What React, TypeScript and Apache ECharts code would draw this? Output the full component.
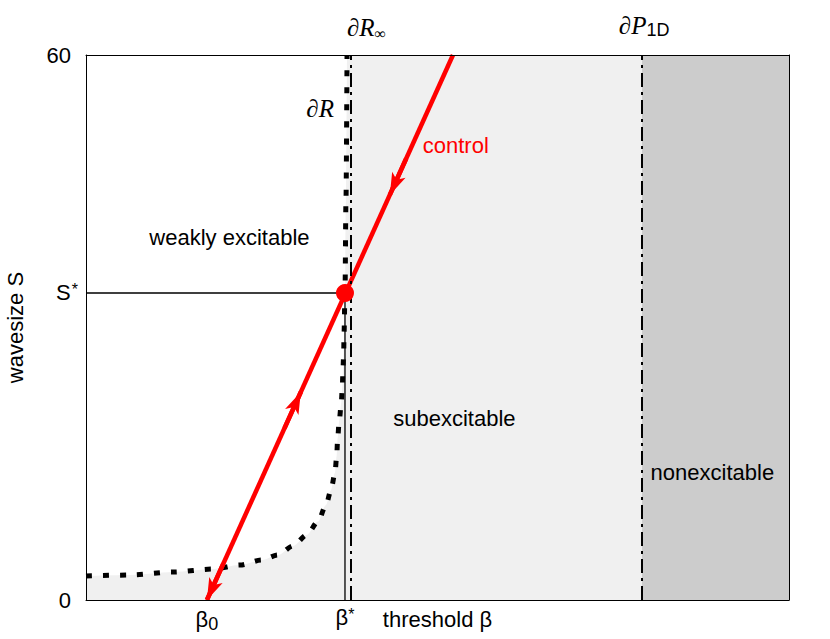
import React, { useEffect, useRef } from 'react';
import * as echarts from 'echarts';

// ---- axis ranges ----
const X_MIN = 0;
const X_MAX = 100;
const Y_MIN = 0;
const Y_MAX = 60;
const yTickValues = [0, 60];

// ---- key values ----
const S_STAR = 33.8;
const BETA_0 = 17.2;
const BETA_STAR = 36.84;
const BETA_R_INF = 37.7;
const BETA_P_1D = 79.1;

// ---- ∂R boundary (dotted curve) ----
const boundaryBeta = [0, 6.26, 12.4, 18.1, 21.9, 25.0, 27.3, 29.45, 31.4, 33.0, 34.14, 34.85, 35.42, 35.66, 35.8, 36.03, 36.32, 36.46, 36.56, 36.66, 36.7, 36.84, 36.98, 37.13];
const boundaryS = [2.64, 2.75, 3.08, 3.41, 3.85, 4.4, 4.95, 5.95, 7.16, 8.63, 10.46, 12.1, 14.0, 15.85, 17.84, 19.8, 21.7, 23.45, 25.54, 27.3, 29.2, 33.8, 44.0, 60];

// ---- control line ----
const controlBeta = [17.2, 52.2];
const controlS = [0, 60];
const arrowTipS = [44.6, 22.9, 0];
const arrowDir = [-1, 1, -1]; // -1: pointing down, +1: pointing up

// ---- region labels ----
const regionLabels = ['weakly excitable', 'subexcitable', 'nonexcitable'];
const regionLabelBeta = [20.4, 52.4, 89.1];
const regionLabelS = [39.86, 20.0, 14.0];

const controlLabel = 'control';
const controlLabelPos = [52.6, 50.0];

const boundaryLabels = ['{i|∂R}', '{i|∂R}{inf|∞}', '{i|∂P}{sub|1D}'];
const boundaryLabelBeta = [33.3, 39.9, 79.4];
const boundaryLabelS = [54.06, 63.0, 63.2];

const FONT = '"Liberation Sans", Arial, Helvetica, sans-serif';
const SERIF = '"Liberation Serif", "DejaVu Serif", serif';

const betaOnControl = (s: number) =>
  controlBeta[0] + ((s - controlS[0]) * (controlBeta[1] - controlBeta[0])) / (controlS[1] - controlS[0]);

export default function App() {
  const ref = useRef<HTMLDivElement>(null);

  useEffect(() => {
    document.body.style.margin = '0';
    if (!ref.current) return;
    const chart = echarts.init(ref.current, null, { renderer: 'svg' });

    const arrowLines = arrowTipS.map((tip, i) => {
      const d = arrowDir[i];
      const start = tip - d * 4.0;
      return [
        { coord: [betaOnControl(start), start], symbol: 'none' },
        { coord: [betaOnControl(tip), tip], symbol: 'arrow', symbolSize: [11, 22] },
      ];
    });

    const baseLabel = {
      position: 'inside',
      opacity: 1,
      textBorderWidth: 0,
      textShadowBlur: 0,
    };

    const labelData: any[] = [];
    regionLabels.forEach((t, i) => {
      labelData.push({
        value: [regionLabelBeta[i], regionLabelS[i]],
        name: t,
        label: { ...baseLabel, formatter: '{b}', color: '#000000', fontSize: 22, fontFamily: FONT },
      });
    });
    labelData.push({
      value: controlLabelPos,
      name: controlLabel,
      label: { ...baseLabel, formatter: '{b}', color: '#ff0000', fontSize: 22, fontFamily: FONT },
    });
    boundaryLabels.forEach((t, i) => {
      labelData.push({
        value: [boundaryLabelBeta[i], boundaryLabelS[i]],
        name: t,
        label: {
          ...baseLabel,
          formatter: t,
          color: '#000000',
          rich: {
            i: { fontFamily: SERIF, fontStyle: 'italic', fontSize: 25, color: '#000000' },
            inf: { fontFamily: SERIF, fontSize: 16, color: '#000000', verticalAlign: 'bottom', padding: [11, 0, 0, 0] },
            sub: { fontFamily: FONT, fontSize: 18, color: '#000000', verticalAlign: 'bottom', padding: [9, 0, 0, 0] },
          },
        },
      });
    });

    const option: any = {
      animation: false,
      backgroundColor: '#ffffff',
      grid: {
        left: 86,
        right: 41,
        top: 55,
        bottom: 39,
        containLabel: false,
        outerBoundsMode: 'none',
        show: true,
        backgroundColor: '#f0f0f0',
        borderWidth: 0,
      },
      xAxis: [
        {
          type: 'value',
          min: X_MIN,
          max: X_MAX,
          position: 'bottom',
          z: 10,
          axisLine: { show: true, lineStyle: { color: '#000', width: 1 } },
          axisTick: { show: false },
          splitLine: { show: false },
          axisLabel: {
            customValues: [BETA_0, BETA_STAR],
            margin: 6,
            color: '#000',
            fontSize: 22,
            fontFamily: FONT,
            formatter: (v: number) => (Math.abs(v - BETA_0) < 0.01 ? '{m|β}{sub|0}' : '{m|β}{sup|*}'),
            rich: {
              m: { fontSize: 22, fontFamily: FONT, color: '#000' },
              sub: { fontSize: 18, fontFamily: FONT, color: '#000', verticalAlign: 'bottom', padding: [9, 0, 0, 0] },
              sup: { fontSize: 16, fontFamily: FONT, color: '#000', verticalAlign: 'top', padding: [0, 0, 6, 0] },
            },
          },
          name: 'threshold β',
          nameLocation: 'middle',
          nameGap: 8,
          nameMoveOverlap: false,
          nameTextStyle: { color: '#000', fontSize: 22, fontFamily: FONT, verticalAlign: 'top' },
        },
        {
          type: 'value',
          min: X_MIN,
          max: X_MAX,
          position: 'top',
          z: 10,
          axisLine: { show: true, onZero: false, lineStyle: { color: '#000', width: 1 } },
          axisTick: { show: false },
          splitLine: { show: false },
          axisLabel: { show: false },
        },
      ],
      yAxis: [
        {
          type: 'value',
          min: Y_MIN,
          max: Y_MAX,
          position: 'left',
          z: 10,
          axisLine: { show: true, onZero: false, lineStyle: { color: '#000', width: 1 } },
          axisTick: { show: false },
          splitLine: { show: false },
          axisLabel: {
            customValues: [...yTickValues, S_STAR],
            margin: 8,
            color: '#000',
            fontSize: 22,
            fontFamily: FONT,
            formatter: (v: number) => (Math.abs(v - S_STAR) < 0.01 ? '{m|S}{sup|*}' : '{n|' + v + '}'),
            rich: {
              m: { fontSize: 22, fontFamily: FONT, color: '#000' },
              n: { fontSize: 22, fontFamily: FONT, color: '#000', padding: [0, 7, 0, 0] },
              sup: { fontSize: 16, fontFamily: FONT, color: '#000', verticalAlign: 'top', padding: [0, 0, 6, 1] },
            },
          },
          name: 'wavesize S',
          nameLocation: 'middle',
          nameGap: 60,
          nameMoveOverlap: false,
          nameTextStyle: { color: '#000', fontSize: 22, fontFamily: FONT },
        },
        {
          type: 'value',
          min: Y_MIN,
          max: Y_MAX,
          position: 'right',
          z: 10,
          axisLine: { show: true, onZero: false, lineStyle: { color: '#000', width: 1 } },
          axisTick: { show: false },
          splitLine: { show: false },
          axisLabel: { show: false },
        },
      ],
      series: [
        {
          name: 'boundary',
          type: 'line',
          z: 2,
          data: boundaryBeta.map((b, i) => [b, boundaryS[i]]),
          symbol: 'none',
          smooth: 0.3,
          smoothMonotone: 'x',
          lineStyle: { color: '#000', width: 5, type: [6, 11] },
          areaStyle: { color: '#ffffff', opacity: 1, origin: 'end' },
          markArea: {
            silent: true,
            itemStyle: { color: '#cccccc' },
            data: [[{ xAxis: BETA_P_1D }, { xAxis: X_MAX }]],
          },
          markLine: {
            silent: true,
            symbol: 'none',
            label: { show: false },
            lineStyle: { color: '#000', width: 2, type: [14, 5, 3, 5] },
            data: [{ xAxis: BETA_R_INF }, { xAxis: BETA_P_1D }],
          },
        },
        {
          name: 'guides',
          type: 'line',
          z: 3,
          data: [
            [X_MIN, S_STAR],
            [BETA_STAR, S_STAR],
            [BETA_STAR, Y_MIN],
          ],
          symbol: 'none',
          lineStyle: { color: '#000', width: 1.3 },
        },
        {
          name: 'control',
          type: 'line',
          z: 4,
          data: controlBeta.map((b, i) => [b, controlS[i]]),
          symbol: 'none',
          lineStyle: { color: '#ff0000', width: 4.5 },
          markLine: {
            silent: true,
            symbol: ['none', 'arrow'],
            symbolSize: 20,
            label: { show: false },
            lineStyle: { color: '#ff0000', width: 4.5, type: 'solid' },
            itemStyle: { color: '#ff0000' },
            data: arrowLines,
          },
        },
        {
          name: 'fixed point',
          type: 'scatter',
          z: 5,
          data: [[BETA_STAR, S_STAR]],
          symbolSize: 18,
          itemStyle: { color: '#ff0000', opacity: 1 },
        },
        {
          name: 'labels',
          type: 'scatter',
          z: 6,
          clip: false,
          silent: true,
          symbolSize: 1,
          itemStyle: { color: 'rgba(0,0,0,0)' },
          label: { show: true, position: 'inside', color: '#000000' },
          data: labelData,
        },
      ],
    };

    chart.setOption(option);
    return () => chart.dispose();
  }, []);

  return <div ref={ref} style={{ width: 830, height: 639 }} />;
}
